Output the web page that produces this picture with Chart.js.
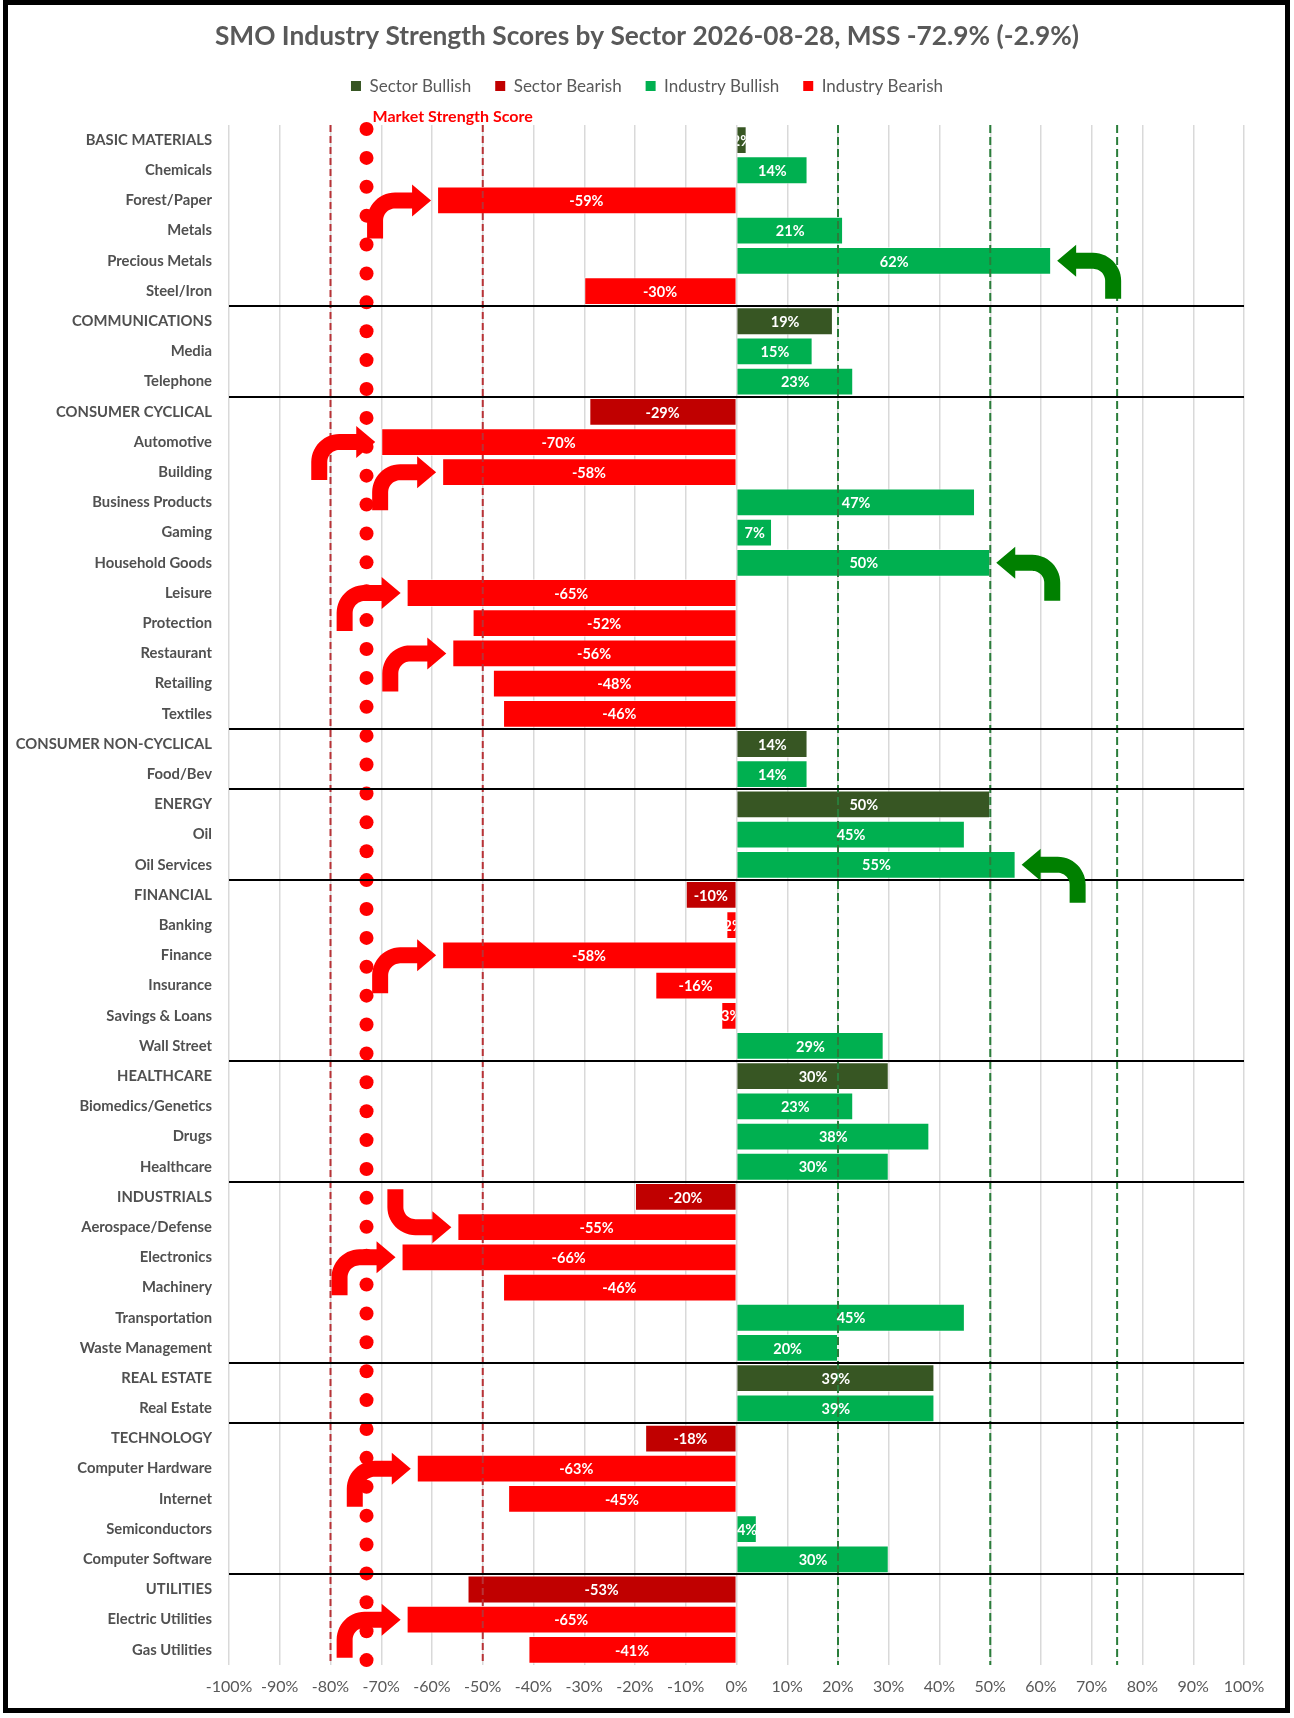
<!DOCTYPE html>
<html><head><meta charset="utf-8">
<script src="https://cdn.jsdelivr.net/npm/chart.js@4.4.1/dist/chart.umd.min.js"></script>
<style>
html,body{margin:0;padding:0;background:#fff;}
#wrap{position:relative;width:1294px;height:1718px;}
#c{position:absolute;left:0;top:0;}
#frame{position:absolute;left:3px;top:0;width:1287px;height:1713px;border:5px solid #000;box-sizing:border-box;pointer-events:none;}
</style></head><body>
<div id="wrap"><canvas id="c" width="1294" height="1718"></canvas><div id="frame"></div></div>
<script>
const chartTitle = 'SMO Industry Strength Scores by Sector 2026-08-28, MSS -72.9% (-2.9%)';
const categories = ['BASIC MATERIALS','Chemicals','Forest/Paper','Metals','Precious Metals','Steel/Iron',
  'COMMUNICATIONS','Media','Telephone',
  'CONSUMER CYCLICAL','Automotive','Building','Business Products','Gaming','Household Goods','Leisure','Protection','Restaurant','Retailing','Textiles',
  'CONSUMER NON-CYCLICAL','Food/Bev',
  'ENERGY','Oil','Oil Services',
  'FINANCIAL','Banking','Finance','Insurance','Savings & Loans','Wall Street',
  'HEALTHCARE','Biomedics/Genetics','Drugs','Healthcare',
  'INDUSTRIALS','Aerospace/Defense','Electronics','Machinery','Transportation','Waste Management',
  'REAL ESTATE','Real Estate',
  'TECHNOLOGY','Computer Hardware','Internet','Semiconductors','Computer Software',
  'UTILITIES','Electric Utilities','Gas Utilities'];
const scores = [2,14,-59,21,62,-30,
  19,15,23,
  -29,-70,-58,47,7,50,-65,-52,-56,-48,-46,
  14,14,
  50,45,55,
  -10,-2,-58,-16,-3,29,
  30,23,38,30,
  -20,-55,-66,-46,45,20,
  39,39,
  -18,-63,-45,4,30,
  -53,-65,-41];
const sectors = ['BASIC MATERIALS','COMMUNICATIONS','CONSUMER CYCLICAL','CONSUMER NON-CYCLICAL','ENERGY','FINANCIAL','HEALTHCARE','INDUSTRIALS','REAL ESTATE','TECHNOLOGY','UTILITIES'];
const seriesNames = ['Sector Bullish','Sector Bearish','Industry Bullish','Industry Bearish'];
const mss = -72.9;
const mssDotRows = [0,1,2,3,4,5,6,7,8,9,10,11,12,13,14,15,16,17,18,19,20,21,22,23,24,25,26,27,28,29,30,31,32,33,34,35,36,37,38,39,40,41,42,43,44,45,46,47,48,49,50,51,52,53];
const bearRefLines = [-80,-50];
const bullRefLines = [20,50,75];
const arrowRows = ['Forest/Paper','Automotive','Building','Leisure','Restaurant','Finance','Aerospace/Defense','Electronics','Computer Hardware','Electric Utilities','Precious Metals','Household Goods','Oil Services'];
const arrowStemUpRows = ['Aerospace/Defense'];

const FONT = "Lato, 'Noto Sans', sans-serif";
const COLORS = ['#375623','#C00000','#00B050','#FF0000'];
Chart.defaults.font.family = FONT;

const isSector = categories.map(c => sectors.includes(c));
const seriesData = [
  scores.map((v,i) => isSector[i] && v >= 0 ? v : null),
  scores.map((v,i) => isSector[i] && v < 0 ? v : null),
  scores.map((v,i) => !isSector[i] && v >= 0 ? v : null),
  scores.map((v,i) => !isSector[i] && v < 0 ? v : null)
];

const barDatasets = seriesNames.map((n, k) => ({
  label: n, data: seriesData[k], backgroundColor: COLORS[k],
  borderColor: 'rgba(255,255,255,0.55)', borderWidth: 1,
  grouped: false, barPercentage: 0.92, categoryPercentage: 1.0, order: 1
}));

const dotDataset = {
  type: 'scatter', label: 'Market Strength Score', indexAxis: 'x',
  data: mssDotRows.map(r => ({x: mss, y: r})),
  xAxisID: 'x', yAxisID: 'y2', showLine: false, clip: false,
  pointRadius: 7, pointBackgroundColor: '#FF0000', pointBorderWidth: 0, order: 0
};

const overlay = {
  id: 'overlay',
  afterDatasetsDraw(chart) {
    const {ctx, chartArea: ca} = chart;
    const x = chart.scales.x, y = chart.scales.y;
    ctx.save();
    const vline = (v, color, dash) => {
      const px = x.getPixelForValue(v);
      ctx.beginPath(); ctx.setLineDash(dash); ctx.strokeStyle = color; ctx.lineWidth = 2;
      ctx.moveTo(px, ca.top); ctx.lineTo(px, ca.bottom); ctx.stroke();
    };
    bearRefLines.forEach(v => vline(v, '#B83236', [7,4]));
    bullRefLines.forEach(v => vline(v, '#2A7D3A', [8,4]));
    ctx.setLineDash([]);
    // sector separators
    ctx.strokeStyle = '#000'; ctx.lineWidth = 2;
    categories.forEach((c, i) => {
      if (i > 0 && isSector[i]) {
        const yy = Math.round((y.getPixelForValue(i-1) + y.getPixelForValue(i)) / 2);
        ctx.beginPath(); ctx.moveTo(ca.left, yy); ctx.lineTo(ca.right, yy); ctx.stroke();
      }
    });
    // bar labels
    barDatasets.forEach((ds, di) => {
      const meta = chart.getDatasetMeta(di);
      meta.data.forEach((el, i) => {
        const v = ds.data[i]; if (v == null) return;
        const p = el.getProps(['x','y','base','height'], true);
        const left = Math.min(p.x, p.base), w = Math.abs(p.x - p.base);
        ctx.save();
        ctx.beginPath(); ctx.rect(left, p.y - p.height/2, w, p.height); ctx.clip();
        ctx.fillStyle = '#fff'; ctx.font = 'bold 14.5px ' + FONT;
        ctx.textAlign = 'center'; ctx.textBaseline = 'middle';
        ctx.fillText(Math.round(v) + '%', left + w/2, p.y + 1);
        ctx.restore();
      });
    });
    // arrows
    const S = -56, t = 8, Ro = 28, Ri = 12, HL = 19, HH = 16, SL = 38;
    arrowRows.forEach(name => {
      const i = categories.indexOf(name); const v = scores[i];
      const dx = v < 0 ? 1 : -1;
      const dy = arrowStemUpRows.includes(name) ? -1 : 1;
      const endPx = x.getPixelForValue(v);
      const tipX = endPx - dx * 6, yc = y.getPixelForValue(i);
      const pts = [];
      const cx = S - t + Ro, cy = -t + Ro;
      pts.push([S - t, SL]);
      for (let k = 0; k <= 14; k++) { const a = Math.PI + k/14 * Math.PI/2; pts.push([cx + Ro*Math.cos(a), cy + Ro*Math.sin(a)]); }
      pts.push([-HL, -t], [-HL, -HH], [0, 0], [-HL, HH], [-HL, t]);
      for (let k = 0; k <= 14; k++) { const a = 1.5*Math.PI - k/14 * Math.PI/2; pts.push([cx + Ri*Math.cos(a), cy + Ri*Math.sin(a)]); }
      pts.push([S + t, SL]);
      ctx.beginPath();
      pts.forEach((q, k) => { const X = tipX + dx*q[0], Y = yc + dy*q[1]; k ? ctx.lineTo(X, Y) : ctx.moveTo(X, Y); });
      ctx.closePath();
      ctx.fillStyle = v < 0 ? '#FF0000' : '#008000';
      ctx.fill();
    });
    // MSS label
    ctx.fillStyle = '#FF0000'; ctx.font = 'bold 16px ' + FONT;
    ctx.textAlign = 'left'; ctx.textBaseline = 'alphabetic';
    ctx.fillText('Market Strength Score', x.getPixelForValue(mss) + 6, ca.top - 3);
    ctx.restore();
  }
};

new Chart(document.getElementById('c'), {
  type: 'bar',
  data: { labels: categories, datasets: [...barDatasets, dotDataset] },
  options: {
    indexAxis: 'y', responsive: false, animation: false, events: [],
    layout: { padding: { left: 0, right: 0, top: 0, bottom: 20 } },
    scales: {
      x: { type: 'linear', position: 'bottom', min: -100, max: 100,
        ticks: { stepSize: 10, callback: v => v + '%', color: '#595959', font: { size: 16 }, padding: 12,
          maxRotation: 0, minRotation: 0, autoSkip: false },
        grid: { color: '#D9D9D9', lineWidth: 1.5, drawTicks: false }, border: { display: false },
        afterFit: s => { s.height = 33; } },
      xTop: { type: 'linear', position: 'top', axis: 'x', display: true, offset: false,
        ticks: { display: false }, grid: { display: false, drawTicks: false }, border: { display: false },
        afterFit: s => { s.height = 20.4; } },
      y: { type: 'category', position: 'left',
        ticks: { color: '#505050', font: { size: 14.8, weight: 'bold' }, padding: 17, autoSkip: false },
        grid: { display: false, drawTicks: false }, border: { display: false },
        afterFit: s => { s.width = 229; } },
      y2: { type: 'linear', position: 'right', axis: 'y', display: true, offset: false,
        min: -0.14, max: 53.17, reverse: true,
        ticks: { display: false }, grid: { display: false, drawTicks: false }, border: { display: false },
        afterFit: s => { s.width = 50; } }
    },
    plugins: {
      title: { display: true, text: chartTitle, color: '#595959', font: { size: 26.3, weight: 'bold' }, padding: { top: 21, bottom: 1 } },
      legend: { display: true, labels: { color: '#595959', font: { size: 17 }, boxWidth: 10, boxHeight: 10, padding: 24,
        filter: item => item.datasetIndex < 4,
        generateLabels: chart => Chart.defaults.plugins.legend.labels.generateLabels(chart).map(l => Object.assign(l, { strokeStyle: l.fillStyle, lineWidth: 0 })) } },
      tooltip: { enabled: false }
    }
  },
  plugins: [overlay]
});
</script></body></html>
